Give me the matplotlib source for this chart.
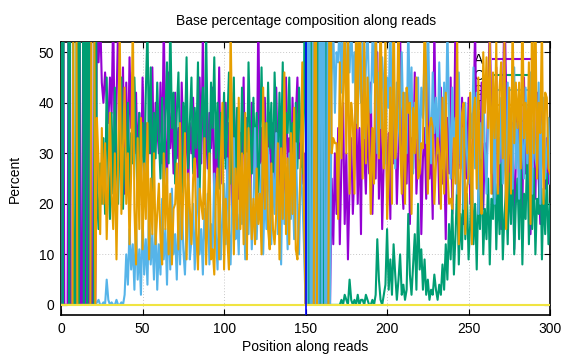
import matplotlib

matplotlib.use("Agg")
import matplotlib.pyplot as plt
import numpy as np

plt.rcParams["font.family"] = ["Liberation Sans", "DejaVu Sans"]

# percent of each base at each read position (0..300)
a_pct = [
    0, 100, 0, 0, 0, 100, 0, 0, 0, 0,
    0, 100, 0, 0, 100, 0, 100, 0, 100, 0,
    0, 0, 60, 48, 57, 44, 40, 46, 41, 36,
    45, 38, 58, 27, 40, 55, 43, 32, 47, 22,
    44, 26, 49, 35, 46, 30, 42, 28, 38, 24,
    45, 33, 36, 22, 41, 30, 47, 27, 40, 35,
    30, 44, 28, 56, 33, 24, 46, 31, 38, 26,
    42, 29, 35, 20, 44, 32, 27, 39, 23, 36,
    30, 41, 25, 37, 22, 45, 28, 54, 20, 40,
    27, 38, 31, 43, 19, 35, 26, 47, 24, 33,
    29, 40, 22, 36, 30, 18, 42, 25, 38, 21,
    34, 27, 45, 20, 37, 29, 17, 40, 26, 33,
    22, 57, 28, 35, 19, 41, 25, 30, 38, 20,
    36, 24, 43, 27, 18, 39, 30, 22, 45, 28,
    33, 20, 41, 26, 37, 45, 29, 32, 24, 30,
    0, 100, 0, 0, 100, 0, 0, 100, 0, 0,
    100, 0, 0, 100, 0, 0, 25, 12, 30, 18,
    35, 12, 28, 40, 16, 30, 9, 24, 33, 18,
    27, 42, 20, 35, 14, 48, 30, 22, 38, 26,
    44, 18, 32, 25, 50, 21, 36, 15, 29, 40,
    23, 34, 17, 45, 28, 38, 20, 31, 55, 26,
    19, 37, 24, 42, 16, 33, 27, 46, 22, 30,
    38, 14, 29, 35, 21, 48, 25, 32, 17, 56,
    28, 36, 20, 43, 24, 31, 13, 37, 26, 45,
    18, 30, 58, 22, 34, 27, 41, 16, 33, 25,
    41, 20, 29, 36, 55, 28, 38, 23, 44, 19,
    32, 26, 40, 57, 35, 22, 30, 47, 21, 33,
    15, 38, 60, 43, 20, 31, 24, 36, 11, 29,
    40, 22, 34, 18, 45, 26, 30, 37, 14, 28,
    35, 21, 42, 25, 16, 39, 28, 23, 33, 24,
    30,
]
c_pct = [
    100, 0, 100, 100, 100, 0, 100, 100, 0, 0,
    100, 0, 100, 100, 0, 100, 0, 100, 0, 0,
    0, 100, 22, 15, 28, 20, 33, 18, 45, 26,
    17, 38, 22, 43, 29, 20, 35, 45, 19, 31,
    26, 40, 21, 34, 28, 45, 32, 20, 38, 27,
    36, 24, 42, 55, 30, 47, 22, 38, 29, 44,
    33, 25, 41, 20, 37, 48, 28, 57, 35, 42,
    24, 38, 46, 30, 21, 40, 33, 49, 27, 36,
    45, 26, 39, 31, 48, 22, 37, 43, 28, 54,
    32, 24, 44, 35, 49, 29, 40, 23, 38, 30,
    42, 27, 36, 46, 24, 33, 45, 20, 39, 31,
    25, 43, 30, 37, 22, 48, 34, 26, 41, 29,
    38, 21, 33, 47, 28, 36, 24, 44, 31, 40,
    23, 46, 35, 27, 42, 30, 48, 25, 38, 34,
    45, 29, 36, 22, 40, 27, 43, 33, 26, 38,
    100, 0, 0, 100, 0, 0, 0, 0, 100, 0,
    0, 0, 100, 0, 0, 0, 0, 0, 0, 0,
    0, 0, 1, 0, 2, 1, 0, 5, 1, 0,
    1, 0, 2, 0, 1, 1, 0, 2, 1, 0,
    0, 1, 0, 2, 13, 5, 1, 0, 2, 4,
    15, 3, 9, 2, 12, 6, 1, 5, 10, 2,
    4, 1, 3, 18, 6, 2, 8, 14, 3, 20,
    7, 11, 3, 9, 2, 5, 1, 3, 2, 6,
    3, 1, 4, 2, 8, 3, 12, 5, 16, 9,
    20, 6, 14, 24, 8, 18, 11, 27, 13, 22,
    9, 16, 26, 12, 20, 7, 23, 15, 29, 10,
    19, 13, 25, 8, 21, 17, 30, 11, 24, 14,
    28, 9, 18, 23, 12, 26, 16, 31, 10, 20,
    25, 13, 29, 8, 22, 17, 32, 12, 24, 15,
    27, 10, 21, 18, 30, 9, 23, 14, 26, 12,
    20,
]
g_pct = [
    0, 0, 0, 0, 0, 0, 0, 0, 0, 0,
    0, 0, 0, 0, 0, 0, 0, 0, 0, 0,
    0, 0, 0.5, 1, 0, 0, 0.5, 0, 5, 1,
    0, 0.5, 0, 0, 1, 0, 0, 0.5, 0, 2,
    10, 4, 15, 7, 12, 3, 16, 5, 11, 2,
    18, 6, 13, 4, 20, 8, 14, 5, 17, 3,
    12, 6, 21, 9, 15, 4, 19, 7, 23, 10,
    14, 5, 18, 8, 22, 11, 6, 16, 24, 9,
    13, 20, 7, 17, 25, 10, 15, 6, 19, 12,
    22, 8, 16, 11, 26, 14, 7, 21, 9, 18,
    24, 12, 29, 15, 8, 20, 33, 13, 18, 10,
    27, 16, 21, 9, 30, 14, 25, 11, 19, 35,
    13, 22, 17, 28, 10, 24, 15, 31, 20, 12,
    26, 18, 34, 14, 21, 8, 29, 16, 23, 11,
    30, 17, 25, 13, 32, 19, 10, 27, 22, 12,
    0, 0, 100, 0, 0, 100, 0, 0, 0, 100,
    0, 100, 0, 0, 100, 0, 45, 55, 38, 50,
    48, 58, 42, 55, 62, 38, 52, 46, 57, 44,
    50, 36, 60, 45, 40, 53, 33, 47, 56, 41,
    38, 52, 44, 63, 30, 46, 35, 49, 42, 28,
    45, 39, 58, 33, 48, 27, 44, 36, 31, 50,
    35, 42, 30, 56, 38, 47, 26, 40, 33, 45,
    29, 43, 37, 50, 32, 59, 39, 28, 46, 34,
    41, 30, 48, 36, 27, 44, 33, 55, 38, 25,
    43, 31, 37, 22, 46, 28, 35, 19, 40, 30,
    24, 38, 33, 47, 27, 42, 18, 36, 29, 44,
    31, 22, 39, 45, 26, 37, 20, 43, 33, 28,
    41, 24, 35, 19, 44, 30, 38, 23, 47, 27,
    36, 21, 40, 32, 25, 43, 28, 34, 46, 22,
    38, 29, 27, 44, 20, 35, 41, 25, 30, 37,
    24,
]
t_pct = [
    0, 0, 0, 0, 0, 0, 0, 0, 100, 100,
    0, 0, 0, 0, 0, 0, 0, 0, 0, 100,
    100, 0, 37, 28, 14, 35, 20, 32, 13, 25,
    38, 22, 15, 30, 9, 28, 55, 18, 31, 43,
    20, 30, 12, 26, 58, 19, 8, 33, 15, 37,
    11, 28, 17, 36, 9, 25, 14, 30, 12, 18,
    24, 13, 8, 30, 15, 27, 10, 22, 8, 19,
    20, 28, 11, 36, 13, 22, 34, 9, 26, 19,
    12, 25, 29, 14, 7, 23, 20, 17, 33, 8,
    19, 30, 9, 11, 6, 22, 27, 9, 29, 40,
    7, 21, 13, 7, 56, 31, 10, 27, 15, 41,
    15, 30, 12, 38, 9, 35, 24, 13, 21, 12,
    27, 16, 22, 10, 43, 19, 36, 15, 11, 28,
    15, 12, 18, 32, 9, 31, 17, 46, 14, 29,
    12, 34, 18, 39, 11, 9, 18, 28, 48, 20,
    0, 0, 0, 0, 0, 0, 100, 0, 0, 0,
    0, 0, 0, 0, 0, 100, 30, 33, 32, 32,
    17, 48, 29, 42, 55, 30, 57, 22, 40, 36,
    22, 57, 35, 62, 45, 25, 52, 28, 45, 33,
    18, 35, 24, 55, 42, 29, 60, 34, 27, 54,
    17, 25, 43, 20, 62, 29, 35, 58, 33, 22,
    42, 20, 43, 38, 40, 18, 39, 30, 45, 25,
    26, 32, 31, 57, 45, 22, 35, 37, 35, 20,
    28, 33, 30, 19, 41, 22, 42, 27, 20, 21,
    19, 33, 24, 54, 12, 24, 38, 40, 14, 23,
    26, 42, 12, 38, 41, 23, 45, 26, 18, 50,
    38, 49, 35, 52, 22, 46, 33, 52, 22, 43,
    48, 29, 52, 15, 24, 43, 22, 57, 32, 44,
    35, 44, 27, 60, 33, 40, 30, 48, 16, 63,
    30, 60, 25, 40, 34, 56, 20, 42, 41, 27,
    26,
]
n_pct = [0] * 301

bases = ["A", "C", "G", "T", "N"]
series = [a_pct, c_pct, g_pct, t_pct, n_pct]
colors = ["#9400d3", "#009e73", "#56b4e9", "#e69f00", "#f0e442"]
read_split = 150  # read 1 | read 2 boundary

fig = plt.figure(figsize=(5.76, 3.6), dpi=100)
ax = fig.add_axes([0.106, 0.125, 0.849, 0.758])

for base, vals, col in zip(bases, series, colors):
    ax.plot(np.arange(len(vals)), vals, color=col, lw=1.5, label=base, zorder=3)
ax.axvline(read_split, color="#0000ff", lw=1.2, zorder=3.5)

ax.set_xlim(0, 300)
ax.set_ylim(-2, 52)
ax.set_xticks(np.arange(0, 301, 50))
ax.set_yticks(np.arange(0, 51, 10))
ax.grid(True, color="#c8c8c8", ls=(0, (1, 2)), lw=0.7)
ax.set_axisbelow(True)
ax.tick_params(direction="in", top=True, right=True, labelsize=10, length=4, pad=5)
for s in ax.spines.values():
    s.set_linewidth(1.2)

ax.set_title("Base percentage composition along reads", fontsize=10, pad=12)
ax.set_xlabel("Position along reads", fontsize=10, labelpad=3)
ax.set_ylabel("Percent", fontsize=10, labelpad=12)

leg = ax.legend(loc="upper right", bbox_to_anchor=(0.98, 0.99), frameon=False,
                markerfirst=False, fontsize=10, handlelength=2.8,
                handletextpad=0.7, labelspacing=0.1, borderaxespad=0.2)
leg.set_zorder(2)

fig.savefig("out.png", dpi=100)
